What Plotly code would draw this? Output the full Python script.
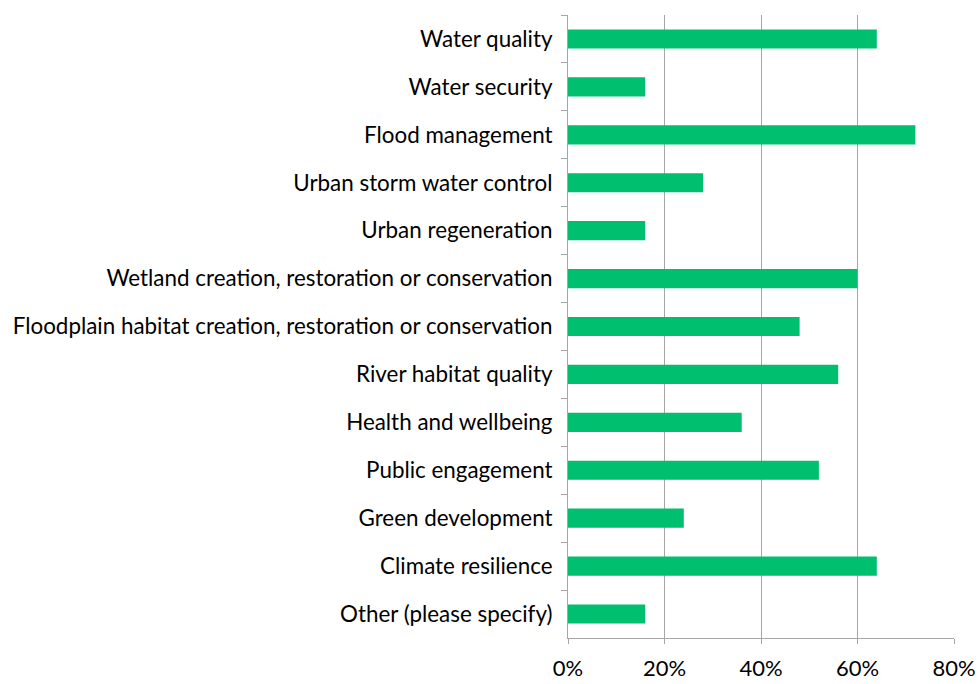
import plotly.graph_objects as go

categories = [
    "Water quality",
    "Water security",
    "Flood management",
    "Urban storm water control",
    "Urban regeneration",
    "Wetland creation, restoration or conservation",
    "Floodplain habitat creation, restoration or conservation",
    "River habitat quality",
    "Health and wellbeing",
    "Public engagement",
    "Green development",
    "Climate resilience",
    "Other (please specify)",
]
shares = [0.64, 0.16, 0.72, 0.28, 0.16, 0.60, 0.48, 0.56, 0.36, 0.52, 0.24, 0.64, 0.16]
x_ticks = [0, 0.2, 0.4, 0.6, 0.8]
x_tick_labels = ["0%", "20%", "40%", "60%", "80%"]

fig = go.Figure(
    go.Bar(
        x=shares,
        y=categories,
        orientation="h",
        marker=dict(color="#00BF6F", line=dict(width=0)),
        width=0.4,
    )
)

font_family = "Lato, 'Noto Sans', sans-serif"

fig.update_layout(
    width=979,
    height=684,
    margin=dict(l=568, r=25, t=15, b=46),
    paper_bgcolor="white",
    plot_bgcolor="white",
    showlegend=False,
    font=dict(family=font_family, size=22, color="#000000"),
    xaxis=dict(
        range=[0, 0.8],
        tickvals=x_ticks,
        ticktext=x_tick_labels,
        showgrid=True,
        gridcolor="#A6A6A6",
        gridwidth=1,
        showline=True,
        linecolor="#A6A6A6",
        linewidth=1,
        ticks="outside",
        ticklen=5,
        tickcolor="#A6A6A6",
        zeroline=False,
        ticklabelstandoff=6,
        tickfont=dict(size=22),
        automargin=False,
        fixedrange=True,
    ),
    yaxis=dict(
        autorange="reversed",
        type="category",
        showline=True,
        linecolor="#A6A6A6",
        linewidth=1,
        ticks="outside",
        ticklen=6,
        tickcolor="#A6A6A6",
        tickson="boundaries",
        showgrid=False,
        ticklabelstandoff=10,
        tickfont=dict(size=22.4),
        automargin=False,
        fixedrange=True,
    ),
)

fig.write_html("out.html")
